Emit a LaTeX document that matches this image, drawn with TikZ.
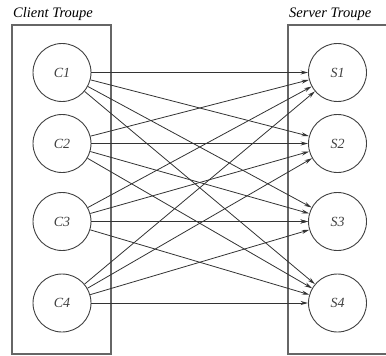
\documentclass[tikz,border=0pt]{standalone}
\usepackage{fontspec}
\setmainfont{Liberation Serif}
\usetikzlibrary{arrows.meta}
\begin{document}
\begin{tikzpicture}[x=1pt,y=-1pt,
  troupe/.style={draw=black!60,line width=1.2pt},
  member/.style={circle,draw=black!75,line width=0.9pt,minimum size=58pt,inner sep=0pt,
    text=black!75,font=\fontsize{14}{14}\selectfont\itshape},
  title/.style={anchor=west,inner sep=0pt,font=\fontsize{14.5}{15}\selectfont\itshape},
  call/.style={draw=black!80,line width=0.8pt,-{Stealth[length=7.5pt,width=4pt]}}]
\useasboundingbox (0,0) rectangle (386,356);
% troupe boxes
\draw[troupe] (12,25) rectangle (111,354);
\draw[troupe] (390,25) -- (288,25) -- (288,354) -- (390,354);
\node[title] (ct) at (13,14) {Client Troupe};
\node[title] (st) at (289,14) {Server Troupe};
% members
\node[member] (C1) at (62,72.5) {C1};
\node[member] (C2) at (62,143.5) {C2};
\node[member] (C3) at (62,221.5) {C3};
\node[member] (C4) at (62,303) {C4};
\node[member] (S1) at (337.5,72.5) {S1};
\node[member] (S2) at (337.5,143.5) {S2};
\node[member] (S3) at (337.5,221.5) {S3};
\node[member] (S4) at (337.5,303) {S4};
% every client calls every server
\foreach \c in {1,2,3,4}{
  \foreach \s in {1,2,3,4}{
    \draw[call] (C\c) -- (S\s);
  }
}
\draw[call,line width=1.2pt] (C3) -- (S3);
\end{tikzpicture}
\end{document}
